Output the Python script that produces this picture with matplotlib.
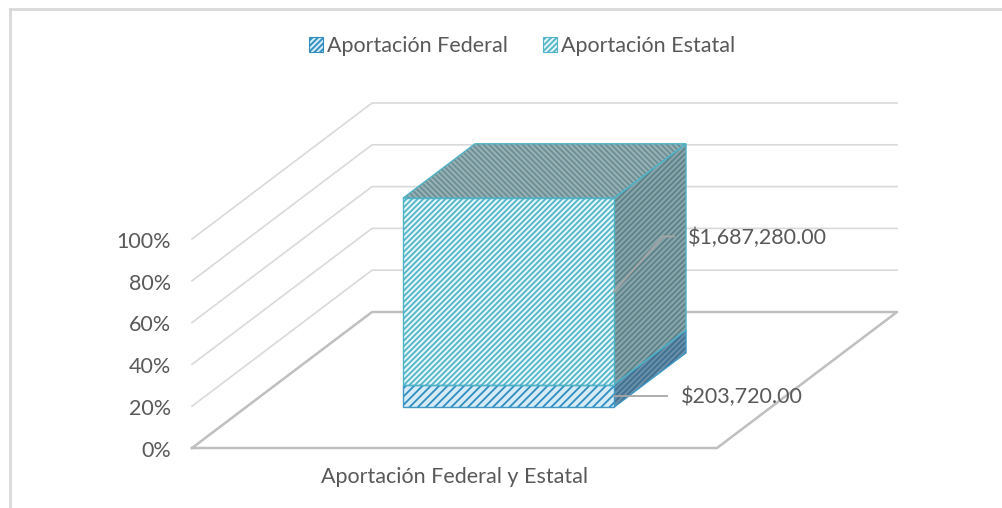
import matplotlib
matplotlib.use("Agg")
import matplotlib.pyplot as plt
from matplotlib.patches import Polygon, Patch
from matplotlib.lines import Line2D

# datos
categoria = "Aportación Federal y Estatal"
series = ["Aportación Federal", "Aportación Estatal"]
valores = [203720.00, 1687280.00]
ticks = [0, 20, 40, 60, 80, 100]

# estilos por serie
fondo = ["#d5ebf6", "#e4f6f9"]
trama = ["#2f8dc0", "#52b5c7"]
borde = ["#3f98c5", "#4fb3c7"]
trama_frente = ["////", "//////"]
lado_fondo = ["#6a90a8", "#8aa6ab"]
lado_trama = ["#3f6f93", "#5c8289"]
tapa_fondo = "#97b1b5"
tapa_trama = "#6b8e94"
# desplazamiento de la linea guia y del texto (px)
guia = [[(53, 0)], [(49, 55), (60, 55)]]
texto_dx = [67, 74]

GRIS_TXT = "#595959"
FUENTE = "Lato"
TAM = 15.5

plt.rcParams["hatch.linewidth"] = 1.3

# proyeccion oblicua: x (categoria), y (porcentaje), d (profundidad 0..1)
KX = 180 / 525
KY = 136 / 209 * 100
ANCHO = 0.201
D0, D1 = 0.30, 0.70


def proj(x, y, d):
    return (x + KX * d, y + KY * d)


fig = plt.figure(figsize=(10.03, 5.08), dpi=100)
ax = fig.add_axes([0, 0, 1, 1])
ax.set_xlim(-0.5 - 192 / 525, -0.5 + (1003 - 192) / 525)
ax.set_ylim(-60 / 209 * 100, 448 / 209 * 100)
ax.axis("off")

# marco del grafico (solo izquierda y arriba visibles)
fig.add_artist(Line2D([10 / 1003, 10 / 1003], [0, 1 - 9 / 508], color="#d9d9d9", lw=2))
fig.add_artist(Line2D([10 / 1003, 1], [1 - 9 / 508, 1 - 9 / 508], color="#d9d9d9", lw=2))

# lineas de division (pared lateral + pared trasera)
for t in ticks[1:]:
    pts = [proj(-0.5, t, 0), proj(-0.5, t, 1), proj(0.5, t, 1)]
    ax.plot([p[0] for p in pts], [p[1] for p in pts], color="#d9d9d9", lw=1.2, zorder=1)

# piso
piso = [proj(-0.5, 0, 0), proj(0.5, 0, 0), proj(0.5, 0, 1), proj(-0.5, 0, 1), proj(-0.5, 0, 0)]
ax.plot([p[0] for p in piso], [p[1] for p in piso], color="#bfbfbf", lw=1.8, zorder=1)

# etiquetas del eje
for t in ticks:
    ax.annotate(f"{t}%", xy=proj(-0.5, t, 0), xytext=(-15, -2), textcoords="offset points",
                ha="right", va="center", fontsize=TAM, color=GRIS_TXT, family=FUENTE)


def cara(pts, fc, hc, ec, hatch, z):
    ax.add_patch(Polygon(pts, closed=True, facecolor=fc, edgecolor=hc, hatch=hatch, lw=0, zorder=z))
    ax.add_patch(Polygon(pts, closed=True, fill=False, edgecolor=ec, lw=1.0, zorder=z + 0.1))


total = sum(valores)
base = 0.0
for i, v in enumerate(valores):
    alto = v / total * 100
    y0, y1 = base, base + alto
    frente = [proj(-ANCHO, y0, D0), proj(ANCHO, y0, D0), proj(ANCHO, y1, D0), proj(-ANCHO, y1, D0)]
    lado = [proj(ANCHO, y0, D0), proj(ANCHO, y0, D1), proj(ANCHO, y1, D1), proj(ANCHO, y1, D0)]
    cara(lado, lado_fondo[i], lado_trama[i], borde[i], "//////", 3)
    cara(frente, fondo[i], trama[i], borde[i], trama_frente[i], 4)
    if i == len(valores) - 1:
        tapa = [proj(-ANCHO, y1, D0), proj(ANCHO, y1, D0), proj(ANCHO, y1, D1), proj(-ANCHO, y1, D1)]
        cara(tapa, tapa_fondo, tapa_trama, borde[i], "\\" * 6, 3)

    # etiqueta de datos con linea guia
    ancla = proj(ANCHO, (y0 + y1) / 2, D0)
    ax_px = ax.transData.transform(ancla)
    pts_px = [ax_px] + [(ax_px[0] + dx, ax_px[1] + dy) for dx, dy in guia[i]]
    pts = ax.transData.inverted().transform(pts_px)
    ax.plot(pts[:, 0], pts[:, 1], color="#a6a6a6", lw=1.3, zorder=6)
    dy_txt = guia[i][-1][1]
    ax.annotate(f"${v:,.2f}", xy=ancla, xytext=(texto_dx[i] * 0.72, dy_txt * 0.72 - 1),
                textcoords="offset points", ha="left", va="center",
                fontsize=TAM, color=GRIS_TXT, family=FUENTE, zorder=7)
    base = y1

# etiqueta de categoria
ax.annotate(categoria, xy=proj(0, 0, 0), xytext=(0, -21), textcoords="offset points",
            ha="center", va="center", fontsize=TAM, color=GRIS_TXT, family=FUENTE)

# leyenda
manijas = [Patch(facecolor=fondo[i], edgecolor=trama[i], hatch="//////", lw=0.8)
           for i in range(len(series))]
leg = ax.legend(manijas, series, loc="center", bbox_to_anchor=(522 / 1003, 1 - 46 / 508),
                bbox_transform=fig.transFigure, ncol=2, frameon=False,
                handlelength=0.65, handleheight=0.65, handletextpad=0.2, columnspacing=1.6,
                prop={"family": FUENTE, "size": TAM})
for t in leg.get_texts():
    t.set_color(GRIS_TXT)

fig.savefig("out.png", dpi=100)
